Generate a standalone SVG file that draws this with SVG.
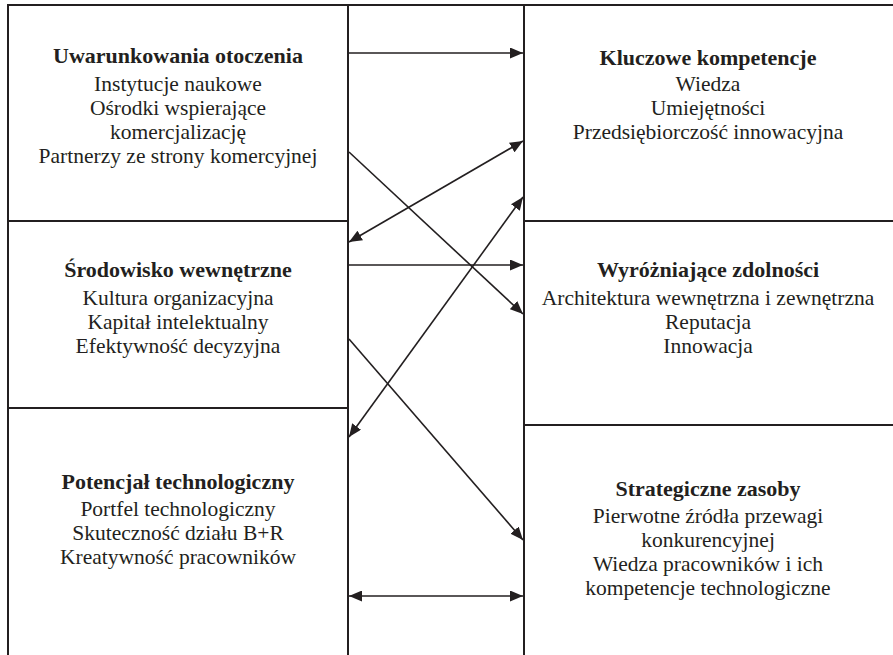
<svg xmlns="http://www.w3.org/2000/svg" width="893" height="655" viewBox="0 0 893 655">
<defs>
<style>
.box{fill:#fff;stroke:#231f20;stroke-width:2}
.frame{stroke:#231f20;stroke-width:2;fill:none}
.t{font-family:"Liberation Serif","Times New Roman",serif;font-size:21.5px;fill:#231f20;text-anchor:middle}
.h{font-weight:bold;font-size:22px}
.c{stroke:#231f20;stroke-width:1.6;fill:none}
.e{marker-end:url(#ah)}
.b{marker-start:url(#ah);marker-end:url(#ah)}
</style>
<marker id="ah" viewBox="0 0 13 11" refX="13" refY="5.5" markerWidth="13" markerHeight="11" markerUnits="userSpaceOnUse" orient="auto-start-reverse">
<path d="M0,0 L13,5.5 L0,11 z" fill="#231f20"/>
</marker>
</defs>
<rect width="893" height="655" fill="#fff"/>
<g id="frame">
<line class="frame" x1="8" y1="5" x2="893" y2="5"/>
</g>
<g id="uwarunkowania">
<rect class="box" x="8" y="5" width="340" height="216"/>
<text class="t h" x="178" y="63">Uwarunkowania otoczenia</text>
<text class="t" x="178" y="91">Instytucje naukowe</text>
<text class="t" x="178" y="115">Ośrodki wspierające</text>
<text class="t" x="178" y="139">komercjalizację</text>
<text class="t" x="178" y="163">Partnerzy ze strony komercyjnej</text>
</g>
<g id="srodowisko">
<rect class="box" x="8" y="221" width="340" height="187"/>
<text class="t h" x="178" y="277">Środowisko wewnętrzne</text>
<text class="t" x="178" y="305">Kultura organizacyjna</text>
<text class="t" x="178" y="329">Kapitał intelektualny</text>
<text class="t" x="178" y="353">Efektywność decyzyjna</text>
</g>
<g id="potencjal">
<rect class="box" x="8" y="408" width="340" height="260"/>
<text class="t h" x="178" y="489">Potencjał technologiczny</text>
<text class="t" x="178" y="516">Portfel technologiczny</text>
<text class="t" x="178" y="540">Skuteczność działu B+R</text>
<text class="t" x="178" y="564">Kreatywność pracowników</text>
</g>
<g id="kluczowe">
<rect class="box" x="524" y="5" width="380" height="216"/>
<text class="t h" x="708" y="65">Kluczowe kompetencje</text>
<text class="t" x="708" y="91">Wiedza</text>
<text class="t" x="708" y="115">Umiejętności</text>
<text class="t" x="708" y="139">Przedsiębiorczość innowacyjna</text>
</g>
<g id="wyrozniajace">
<rect class="box" x="524" y="221" width="380" height="204"/>
<text class="t h" x="708" y="277">Wyróżniające zdolności</text>
<text class="t" x="708" y="305">Architektura wewnętrzna i zewnętrzna</text>
<text class="t" x="708" y="329">Reputacja</text>
<text class="t" x="708" y="353">Innowacja</text>
</g>
<g id="strategiczne">
<rect class="box" x="524" y="425" width="380" height="243"/>
<text class="t h" x="708" y="496">Strategiczne zasoby</text>
<text class="t" x="708" y="523">Pierwotne źródła przewagi</text>
<text class="t" x="708" y="547">konkurencyjnej</text>
<text class="t" x="708" y="571">Wiedza pracowników i ich</text>
<text class="t" x="708" y="595">kompetencje technologiczne</text>
</g>
<g id="connectors">
<line class="c e" x1="349" y1="53" x2="523" y2="53"/>
<line class="c e" x1="349" y1="152" x2="523" y2="314"/>
<line class="c b" x1="349" y1="242" x2="523" y2="141"/>
<line class="c b" x1="349" y1="437" x2="523" y2="197"/>
<line class="c e" x1="349" y1="265" x2="523" y2="265"/>
<line class="c e" x1="349" y1="339" x2="523" y2="540"/>
<line class="c b" x1="349" y1="596" x2="523" y2="596"/>
</g>
</svg>
